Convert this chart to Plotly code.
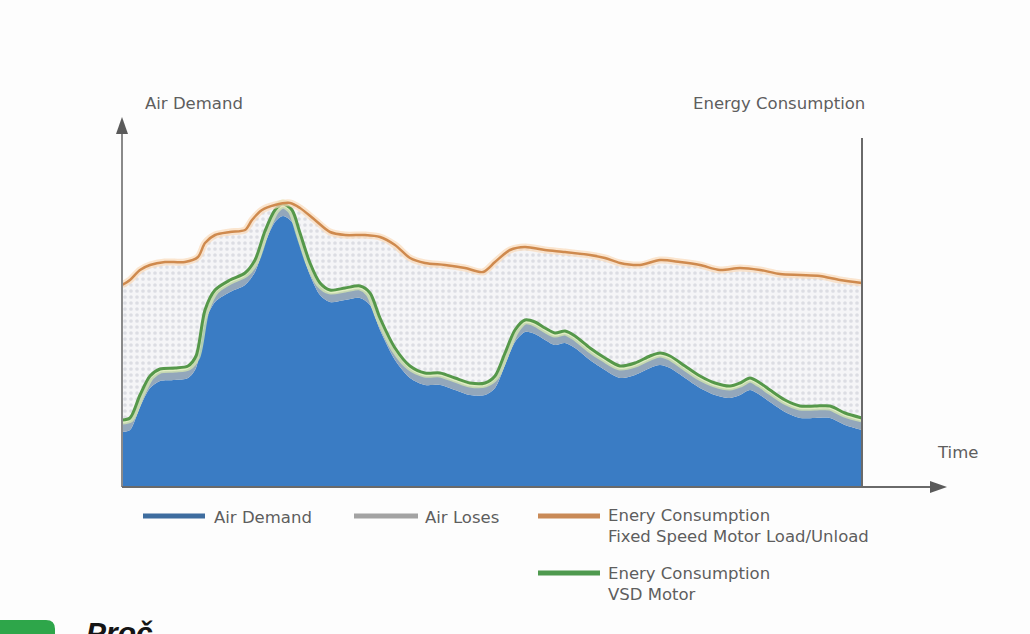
import plotly.graph_objects as go

# ---- data (time index, arbitrary air / energy units) ----
t_demand = [0, 8, 18, 28, 38, 53, 66, 74, 83, 93, 108, 123, 133, 143, 153, 161, 170, 178,
            188, 198, 208, 223, 238, 248, 258, 273, 288, 303, 318, 333, 348, 363, 373, 383,
            393, 403, 413, 423, 433, 443, 453, 468, 483, 498, 513, 528, 538, 548, 563, 578,
            593, 608, 618, 628, 638, 648, 663, 678, 693, 708, 723, 740]
air_demand = [55, 57, 80, 99, 106, 107, 109, 119, 165, 185, 195, 202, 215, 244, 265, 271, 265, 242,
              212, 192, 185, 187, 189, 182, 157, 127, 109, 102, 102, 97, 92, 92, 99, 122,
              145, 155, 153, 147, 142, 144, 139, 127, 117, 109, 112, 119, 122, 119, 109, 99,
              92, 89, 92, 97, 92, 85, 75, 69, 69, 69, 62, 57]
air_losses = [9, 9, 9, 9, 9, 9, 9, 9, 9, 9, 9, 9, 9, 9, 9, 9, 9, 9,
              9, 9, 9, 9, 9, 9, 9, 9, 9, 9, 9, 9, 9, 9, 9, 9,
              9, 9, 9, 9, 9, 9, 9, 9, 9, 9, 9, 9, 9, 9, 9, 9,
              9, 9, 9, 9, 9, 9, 9, 9, 9, 9, 9, 9]
energy_vsd = [67, 69, 92, 111, 118, 119, 121, 131, 177, 197, 207, 214, 227, 256, 277, 283, 277, 254,
              224, 204, 197, 199, 201, 194, 169, 139, 121, 114, 114, 109, 104, 104, 111, 134,
              157, 167, 165, 159, 154, 156, 151, 139, 129, 121, 124, 131, 134, 131, 121, 111,
              104, 101, 104, 109, 104, 97, 87, 81, 81, 81, 74, 69]

t_fixed = [0, 8, 18, 28, 43, 63, 76, 83, 93, 108, 123, 130, 140, 153, 168, 178, 193, 208,
           223, 243, 258, 273, 288, 303, 323, 343, 361, 373, 388, 403, 423, 443, 468, 483,
           498, 518, 538, 558, 578, 598, 618, 638, 658, 678, 698, 718, 740]
energy_fixed = [202, 207, 217, 222, 225, 225, 230, 244, 252, 255, 257, 267, 277, 282, 284, 279, 267, 255,
                252, 252, 250, 242, 229, 224, 222, 219, 215, 225, 237, 240, 237, 235, 232, 229,
                224, 222, 227, 225, 222, 217, 219, 217, 213, 212, 211, 207, 204]

stack_top = [d + l for d, l in zip(air_demand, air_losses)]

legend_names = ["Air Demand", "Air Loses",
                "Enery Consumption<br>Fixed Speed Motor Load/Unload",
                "Enery Consumption<br>VSD Motor"]
axis_titles = ["Air Demand", "Energy Consumption", "Time"]

# ---- geometry helpers (pixel -> paper) ----
W, H = 1030, 634
L, R, T, B = 122, 862, 120, 487


def px(x):
    return (x - L) / (R - L)


def py(y):
    return (B - y) / (B - T)


BLUE = "#3a7cc4"
GRAY = "#93a7bb"
GREEN = "#55984a"
ORANGE = "#cf8a4e"
TXT = "#5e5e5e"
FONT = "DejaVu Sans"
SP = dict(shape="spline", smoothing=0.8)

fig = go.Figure()
fig.add_trace(go.Scatter(x=t_demand, y=air_demand, mode="lines", line=dict(width=0, **SP),
                         fill="tozeroy", fillcolor=BLUE, name=legend_names[0], hoverinfo="skip"))
fig.add_trace(go.Scatter(x=t_demand, y=stack_top, mode="lines", line=dict(width=0, **SP),
                         fill="tonexty", fillcolor=GRAY, name=legend_names[1], hoverinfo="skip"))
fig.add_trace(go.Scatter(x=t_demand, y=energy_vsd, mode="lines",
                         line=dict(width=9, color="rgba(215,232,175,0.75)", **SP),
                         hoverinfo="skip"))
fig.add_trace(go.Scatter(x=t_demand, y=energy_vsd, mode="lines",
                         line=dict(width=3, color=GREEN, **SP),
                         name=legend_names[3], hoverinfo="skip"))
fig.add_trace(go.Scatter(x=t_fixed, y=energy_fixed, mode="lines",
                         line=dict(width=0, **SP),
                         fill="tonexty", fillcolor="#f4f4f6",
                         fillpattern=dict(shape=".", fgcolor="#c3c6cf", bgcolor="#f5f5f7", size=6, solidity=0.3),
                         hoverinfo="skip"))
fig.add_trace(go.Scatter(x=t_fixed, y=energy_fixed, mode="lines",
                         line=dict(width=7, color="rgba(250,218,185,0.7)", **SP),
                         hoverinfo="skip"))
fig.add_trace(go.Scatter(x=t_fixed, y=energy_fixed, mode="lines",
                         line=dict(width=2.5, color=ORANGE, **SP),
                         name=legend_names[2], hoverinfo="skip"))

AX = "#5a5a5a"
shapes = [
    # left axis + arrow
    dict(type="line", xref="paper", yref="paper", x0=px(122), x1=px(122), y0=py(487), y1=py(130),
         line=dict(color="#8a8a8a", width=2)),
    dict(type="path", xref="paper", yref="paper",
         path=f"M {px(116)} {py(134)} L {px(122)} {py(117)} L {px(128)} {py(134)} Z",
         fillcolor=AX, line=dict(width=0)),
    # right axis
    dict(type="line", xref="paper", yref="paper", x0=px(862), x1=px(862), y0=py(487), y1=py(138),
         line=dict(color="#6a6a6a", width=2)),
    # time axis + arrow
    dict(type="line", xref="paper", yref="paper", x0=px(122), x1=px(934), y0=py(487), y1=py(487),
         line=dict(color="#6a6a6a", width=2)),
    dict(type="path", xref="paper", yref="paper",
         path=f"M {px(930)} {py(481)} L {px(947)} {py(487)} L {px(930)} {py(493)} Z",
         fillcolor=AX, line=dict(width=0)),
    # legend swatches
    dict(type="line", xref="paper", yref="paper", x0=px(143), x1=px(205), y0=py(516), y1=py(516),
         line=dict(color="#3e6d9f", width=5)),
    dict(type="line", xref="paper", yref="paper", x0=px(354), x1=px(418), y0=py(516), y1=py(516),
         line=dict(color="#a3a3a3", width=5)),
    dict(type="line", xref="paper", yref="paper", x0=px(538), x1=px(600), y0=py(516), y1=py(516),
         line=dict(color="#c98a57", width=5)),
    dict(type="line", xref="paper", yref="paper", x0=px(538), x1=px(600), y0=py(573), y1=py(573),
         line=dict(color="#4f9a4f", width=5)),
    # bottom green tab
    dict(type="path", xref="paper", yref="paper",
         path=f"M {px(0)} {py(640)} L {px(0)} {py(620)} L {px(46)} {py(620)} Q {px(55)} {py(620)} {px(55)} {py(629)} L {px(55)} {py(640)} Z",
         fillcolor="#2ea64a", line=dict(width=0)),
]

ann = [
    dict(text=axis_titles[0], x=px(143), y=py(103), xanchor="left", yanchor="middle"),
    dict(text=axis_titles[1], x=px(867), y=py(103), xanchor="right", yanchor="middle"),
    dict(text=axis_titles[2], x=px(935), y=py(452), xanchor="left", yanchor="middle"),
    dict(text=legend_names[0], x=px(212), y=py(517), xanchor="left", yanchor="middle"),
    dict(text=legend_names[1], x=px(423), y=py(517), xanchor="left", yanchor="middle"),
    dict(text=legend_names[2], x=px(606), y=py(504), xanchor="left", yanchor="top", align="left"),
    dict(text=legend_names[3], x=px(606), y=py(562), xanchor="left", yanchor="top", align="left"),
]
annotations = []
for a in ann:
    a.update(xref="paper", yref="paper", showarrow=False, font=dict(family=FONT, size=16.5, color=TXT))
    annotations.append(a)
annotations.append(dict(text="<b><i>Proč</i></b>", xref="paper", yref="paper", x=px(84), y=py(614),
                        xanchor="left", yanchor="top", showarrow=False,
                        font=dict(family="Liberation Sans", size=30, color="#151515")))

fig.update_layout(
    width=W, height=H,
    margin=dict(l=L, r=W - R, t=T, b=H - B),
    paper_bgcolor="#fdfdfd", plot_bgcolor="#fdfdfd",
    showlegend=False,
    xaxis=dict(range=[0, 740], visible=False, fixedrange=True),
    yaxis=dict(range=[0, 367], visible=False, fixedrange=True),
    shapes=shapes, annotations=annotations,
)

fig.write_html("out.html")
